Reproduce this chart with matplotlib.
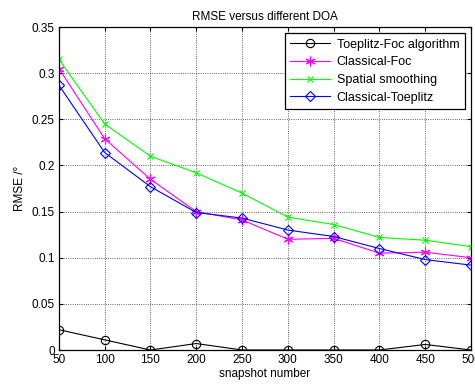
import matplotlib
matplotlib.use("Agg")
import matplotlib.pyplot as plt
from matplotlib.ticker import FuncFormatter

snapshots = [50, 100, 150, 200, 250, 300, 350, 400, 450, 500]
toeplitz_foc = [0.022, 0.011, 0.0, 0.007, 0.0, 0.0, 0.0, 0.0, 0.006, 0.0]
classical_foc = [0.305, 0.229, 0.185, 0.150, 0.141, 0.120, 0.121, 0.105, 0.106, 0.100]
spatial_smoothing = [0.315, 0.245, 0.210, 0.192, 0.170, 0.144, 0.136, 0.122, 0.119, 0.112]
classical_toeplitz = [0.287, 0.214, 0.177, 0.149, 0.143, 0.130, 0.123, 0.110, 0.098, 0.092]
labels = ["Toeplitz-Foc algorithm", "Classical-Foc", "Spatial smoothing", "Classical-Toeplitz"]
yticks = [0, 0.05, 0.1, 0.15, 0.2, 0.25, 0.3, 0.35]

plt.rcParams['font.family'] = ['Liberation Sans', 'DejaVu Sans']
fig = plt.figure(figsize=(4.75, 3.87), dpi=100)
ax = fig.add_axes([0.124, 0.0956, 0.8676, 0.8344])

lw = 0.8
ax.plot(snapshots, toeplitz_foc, color='black', marker='o', mfc='none', ms=6, lw=lw, mew=0.8, label=labels[0])
ax.plot(snapshots, classical_foc, color='#ff00ff', marker=(6, 2, 0), ms=7, lw=lw, mew=0.8, label=labels[1])
ax.plot(snapshots, spatial_smoothing, color='#00ff00', marker='x', ms=4, lw=lw, mew=0.8, label=labels[2])
ax.plot(snapshots, classical_toeplitz, color='#0000ff', marker='D', mfc='none', ms=5, lw=lw, mew=0.8, label=labels[3])

ax.set_xlim(50, 500)
ax.set_ylim(0, 0.35)
ax.set_xticks(snapshots)
ax.set_yticks(yticks)
ax.yaxis.set_major_formatter(FuncFormatter(lambda v, p: f"{v:g}"))
ax.tick_params(direction='in', labelsize=8.5, top=True, right=True, length=3, width=0.8, pad=3)
ax.grid(True, linestyle=':', color='black', linewidth=0.6, alpha=0.8)
for s in ax.spines.values():
    s.set_linewidth(0.9)

ax.set_title("RMSE versus different DOA", fontsize=8.5, pad=5)
ax.set_xlabel("snapshot number", fontsize=8.5, labelpad=1)
ax.set_ylabel("RMSE /°", fontsize=8.5, labelpad=4)

leg = ax.legend(loc='upper right', fontsize=9, fancybox=False, framealpha=1, edgecolor='black',
                borderpad=0.45, labelspacing=0.45, handlelength=3.2, handletextpad=0.5,
                borderaxespad=0, bbox_to_anchor=(0.9854, 0.981))
leg.get_frame().set_linewidth(0.9)

fig.savefig("out.png", dpi=100)
